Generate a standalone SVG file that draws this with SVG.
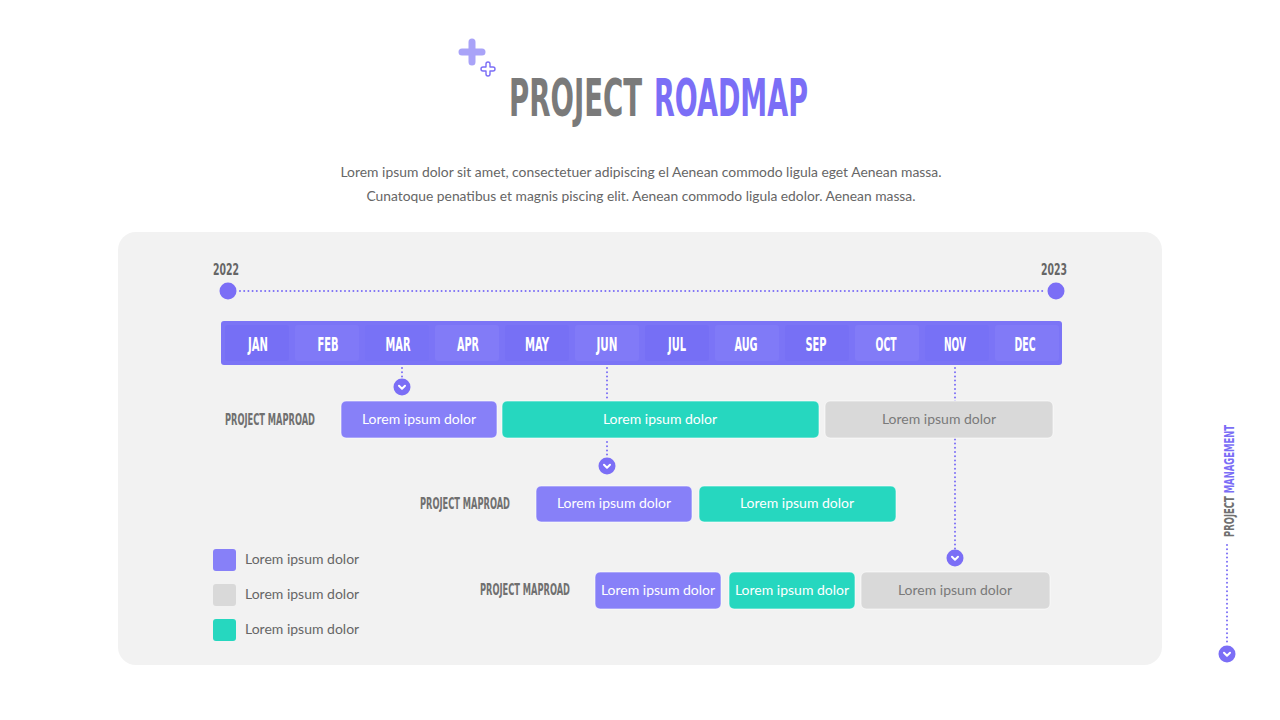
<svg xmlns="http://www.w3.org/2000/svg" width="1280" height="720" viewBox="0 0 1280 720">
<defs>
<style>
.cond{font-family:"DejaVu Sans Condensed","DejaVu Sans",sans-serif;font-weight:bold;font-stretch:condensed}
.body{font-family:Lato,"Open Sans",sans-serif}
.dots{fill:none;stroke:#7b6ef6;stroke-width:2;stroke-dasharray:0 4.2;stroke-linecap:round}
.bx{stroke:#ffffff;stroke-opacity:0.6;stroke-width:1}
.purple{fill:#8780f8}
.teal{fill:#26d7bf}
.grey{fill:#d9d9d9}
.lblw{fill:#ffffff;font-size:14px;text-anchor:middle}
.lblg{fill:#7a7a7a;font-size:14px;text-anchor:middle}
.month{fill:#ffffff;font-size:19px;text-anchor:middle}
.rowlbl{fill:#707070;font-size:16px}
.chev{fill:none;stroke:#ffffff;stroke-width:2;stroke-linecap:round;stroke-linejoin:round}
</style>
<g id="pin">
<circle r="8.5" fill="#7b6ef6"/>
<path class="chev" d="M-3,-1.3 L0,1.7 L3,-1.3"/>
</g>
</defs>
<rect width="1280" height="720" fill="#ffffff"/>

<g id="title">
<path d="M468.5,42 a3.5,3.5 0 0 1 7,0 V48.5 H482 a3.5,3.5 0 0 1 0,7 H475.5 V62 a3.5,3.5 0 0 1 -7,0 V55.5 H462 a3.5,3.5 0 0 1 0,-7 H468.5 Z" fill="#a9a3f8"/>
<path d="M486,64 a2,2 0 0 1 4,0 V67 H493 a2,2 0 0 1 0,4 H490 V74 a2,2 0 0 1 -4,0 V71 H483 a2,2 0 0 1 0,-4 H486 Z" fill="none" stroke="#7b6ef6" stroke-width="1.4" stroke-linejoin="round"/>
<text class="cond" transform="translate(509,116) scale(0.55,1)" font-size="52" fill="#7a7a7a" textLength="242" lengthAdjust="spacingAndGlyphs">PROJECT</text>
<text class="cond" transform="translate(654,116) scale(0.55,1)" font-size="52" fill="#7b6ef6" textLength="280" lengthAdjust="spacingAndGlyphs">ROADMAP</text>
</g>

<g id="subtitle" class="body" fill="#666666" font-size="13.5" text-anchor="middle">
<text x="641" y="177" textLength="601" lengthAdjust="spacingAndGlyphs">Lorem ipsum dolor sit amet, consectetuer adipiscing el Aenean commodo ligula eget Aenean massa.</text>
<text x="641" y="201" textLength="549" lengthAdjust="spacingAndGlyphs">Cunatoque penatibus et magnis piscing elit. Aenean commodo ligula edolor. Aenean massa.</text>
</g>

<rect id="panel" x="118" y="232" width="1044" height="433" rx="18" fill="#f2f2f2"/>

<g id="timeline">
<text class="cond" x="226" y="275" font-size="15" fill="#666666" text-anchor="middle" textLength="26" lengthAdjust="spacingAndGlyphs">2022</text>
<text class="cond" x="1054" y="275" font-size="15" fill="#666666" text-anchor="middle" textLength="26" lengthAdjust="spacingAndGlyphs">2023</text>
<line class="dots" x1="240" y1="291" x2="1045" y2="291"/>
<circle cx="228" cy="291" r="8.5" fill="#7b6ef6"/>
<circle cx="1056" cy="291" r="8.5" fill="#7b6ef6"/>
</g>

<g id="months">
<rect x="221" y="321" width="841" height="44" rx="3" fill="#7b74f6"/>
<rect x="225" y="325" width="64" height="36" rx="3" fill="#766ff5"/>
<rect x="295" y="325" width="64" height="36" rx="3" fill="#8079f7"/>
<rect x="365" y="325" width="64" height="36" rx="3" fill="#7872f6"/>
<rect x="435" y="325" width="64" height="36" rx="3" fill="#827bf7"/>
<rect x="505" y="325" width="64" height="36" rx="3" fill="#7770f5"/>
<rect x="575" y="325" width="64" height="36" rx="3" fill="#817af7"/>
<rect x="645" y="325" width="64" height="36" rx="3" fill="#766ff5"/>
<rect x="715" y="325" width="64" height="36" rx="3" fill="#807af7"/>
<rect x="785" y="325" width="64" height="36" rx="3" fill="#7770f5"/>
<rect x="855" y="325" width="64" height="36" rx="3" fill="#827bf7"/>
<rect x="925" y="325" width="64" height="36" rx="3" fill="#7771f6"/>
<rect x="995" y="325" width="64" height="36" rx="3" fill="#817af7"/>
<g class="cond">
<text class="month" x="258" y="351" textLength="20" lengthAdjust="spacingAndGlyphs">JAN</text>
<text class="month" x="328" y="351" textLength="21" lengthAdjust="spacingAndGlyphs">FEB</text>
<text class="month" x="398" y="351" textLength="25" lengthAdjust="spacingAndGlyphs">MAR</text>
<text class="month" x="468" y="351" textLength="22" lengthAdjust="spacingAndGlyphs">APR</text>
<text class="month" x="537" y="351" textLength="24" lengthAdjust="spacingAndGlyphs">MAY</text>
<text class="month" x="607" y="351" textLength="21" lengthAdjust="spacingAndGlyphs">JUN</text>
<text class="month" x="677" y="351" textLength="18" lengthAdjust="spacingAndGlyphs">JUL</text>
<text class="month" x="746" y="351" textLength="23" lengthAdjust="spacingAndGlyphs">AUG</text>
<text class="month" x="816" y="351" textLength="21" lengthAdjust="spacingAndGlyphs">SEP</text>
<text class="month" x="886" y="351" textLength="21" lengthAdjust="spacingAndGlyphs">OCT</text>
<text class="month" x="955" y="351" textLength="22" lengthAdjust="spacingAndGlyphs">NOV</text>
<text class="month" x="1025" y="351" textLength="21" lengthAdjust="spacingAndGlyphs">DEC</text>
</g>
</g>

<g id="connectors">
<line class="dots" x1="402" y1="368" x2="402" y2="378"/>
<line class="dots" x1="607" y1="368" x2="607" y2="398"/>
<line class="dots" x1="607" y1="442" x2="607" y2="457"/>
<line class="dots" x1="955" y1="368" x2="955" y2="549"/>
<use href="#pin" x="402" y="387"/>
<use href="#pin" x="607" y="466"/>
<use href="#pin" x="955" y="558"/>
</g>

<g id="row1">
<text class="cond rowlbl" transform="translate(225,425) scale(0.625,1)" textLength="144" lengthAdjust="spacingAndGlyphs">PROJECT MAPROAD</text>
<rect class="bx purple" x="341" y="401" width="156" height="37" rx="5"/>
<text class="body lblw" x="419" y="424">Lorem ipsum dolor</text>
<rect class="bx teal" x="502" y="401" width="317" height="37" rx="5"/>
<text class="body lblw" x="660" y="424">Lorem ipsum dolor</text>
<rect class="bx grey" x="825" y="401" width="228" height="37" rx="5"/>
<text class="body lblg" x="939" y="424">Lorem ipsum dolor</text>
</g>

<g id="row2">
<text class="cond rowlbl" transform="translate(420,509) scale(0.625,1)" textLength="144" lengthAdjust="spacingAndGlyphs">PROJECT MAPROAD</text>
<rect class="bx purple" x="536" y="486" width="156" height="36" rx="5"/>
<text class="body lblw" x="614" y="508">Lorem ipsum dolor</text>
<rect class="bx teal" x="699" y="486" width="197" height="36" rx="5"/>
<text class="body lblw" x="797" y="508">Lorem ipsum dolor</text>
</g>

<g id="row3">
<text class="cond rowlbl" transform="translate(480,595) scale(0.625,1)" textLength="144" lengthAdjust="spacingAndGlyphs">PROJECT MAPROAD</text>
<rect class="bx purple" x="595" y="572" width="126" height="37" rx="5"/>
<text class="body lblw" x="658" y="595">Lorem ipsum dolor</text>
<rect class="bx teal" x="729" y="572" width="126" height="37" rx="5"/>
<text class="body lblw" x="792" y="595">Lorem ipsum dolor</text>
<rect class="bx grey" x="861" y="572" width="189" height="37" rx="5"/>
<text class="body lblg" x="955" y="595">Lorem ipsum dolor</text>
</g>

<g id="legend">
<rect x="213" y="549" width="23" height="22" rx="3" fill="#8780f8"/>
<rect x="213" y="584" width="23" height="22" rx="3" fill="#d9d9d9"/>
<rect x="213" y="619" width="23" height="22" rx="3" fill="#26d7bf"/>
<g class="body" fill="#666666" font-size="14">
<text x="245" y="564">Lorem ipsum dolor</text>
<text x="245" y="599">Lorem ipsum dolor</text>
<text x="245" y="634">Lorem ipsum dolor</text>
</g>
</g>

<g id="side">
<text class="cond" transform="translate(1234,537) rotate(-90)" font-size="14" textLength="112" lengthAdjust="spacingAndGlyphs"><tspan fill="#707070">PROJECT </tspan><tspan fill="#7b6ef6">MANAGEMENT</tspan></text>
<line class="dots" x1="1227" y1="545" x2="1227" y2="642"/>
<use href="#pin" x="1227" y="654"/>
</g>
</svg>
